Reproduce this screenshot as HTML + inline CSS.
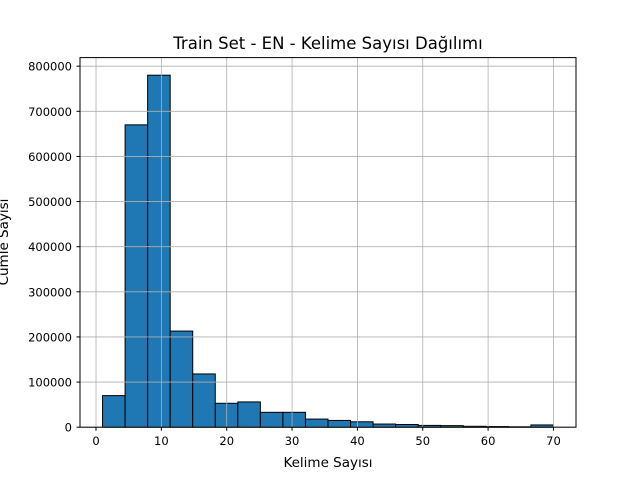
<!DOCTYPE html>
<html><head><meta charset="utf-8"><style>body{margin:0;background:#fff}svg{display:block;font-family:"DejaVu Sans","Liberation Sans",sans-serif}</style></head>
<body>
<svg id="c" width="640" height="480" viewBox="0 0 640 480">
<rect width="640" height="480" fill="#fff"/>
<text x="328" y="49" font-size="16.5" text-anchor="middle">Train Set - EN - Kelime Sayısı Dağılımı</text>
<text x="328" y="467" font-size="13.5" text-anchor="middle">Kelime Sayısı</text>
<text transform="translate(8,242) rotate(-90)" font-size="13.5" text-anchor="middle">Cümle Sayısı</text>
<g id="bars"></g>
<g id="grid"></g>
<g id="ticks"></g>
<rect x="80" y="57.6" width="496" height="369.6" fill="none" stroke="#000" stroke-width="1"/>
</svg>
<script>
const binStart = 1, binEnd = 70;
const counts = [70000,670000,780000,213000,118000,53000,56000,33000,33000,18000,15000,12000,7000,6000,4000,3500,2000,1500,1000,5000];
const xTicks = [0,10,20,30,40,50,60,70];
const yTicks = [0,100000,200000,300000,400000,500000,600000,700000,800000];
const NS = "http://www.w3.org/2000/svg";
const L=80,R=576,T=57.6,B=427.2;
const bw=(binEnd-binStart)/counts.length;
const xmax=binEnd+(binEnd-binStart)*0.05;
const x0=binStart-(binEnd-binStart)*0.05;
const X=v=>L+(v-x0)/(xmax-x0)*(R-L);
const ymax=Math.max(...counts)*1.05;
const Y=v=>B-v/ymax*(B-T);
function mk(t,a,p){const e=document.createElementNS(NS,t);for(const k in a)e.setAttribute(k,a[k]);p.appendChild(e);return e;}
const bars=document.getElementById('bars'),grid=document.getElementById('grid'),ticks=document.getElementById('ticks');
counts.forEach((c,i)=>{const a=binStart+i*bw,b=a+bw;
const r=mk('rect',{x:X(a),y:Y(c),width:X(b)-X(a),height:B-Y(c),fill:'#1f77b4',stroke:'#000','stroke-width':1},bars);

});
xTicks.forEach(v=>{const x=X(v);
const g=mk('line',{x1:x,x2:x,y1:T,y2:B,stroke:'#b0b0b0','stroke-width':0.8},grid);


mk('line',{x1:x,x2:x,y1:B,y2:B+3.5,stroke:'#000'},ticks);
const t=mk('text',{x:x,y:B+18,'font-size':11.5,'text-anchor':'middle'},ticks);t.textContent=v;

});
yTicks.forEach(v=>{const y=Y(v);
const g=mk('line',{x1:L,x2:R,y1:y,y2:y,stroke:'#b0b0b0','stroke-width':0.8},grid);


mk('line',{x1:L-3.5,x2:L,y1:y,y2:y,stroke:'#000'},ticks);
const t=mk('text',{x:L-8,y:y+4.5,'font-size':11.5,'text-anchor':'end'},ticks);t.textContent=v;

});
</script>
</body></html>
